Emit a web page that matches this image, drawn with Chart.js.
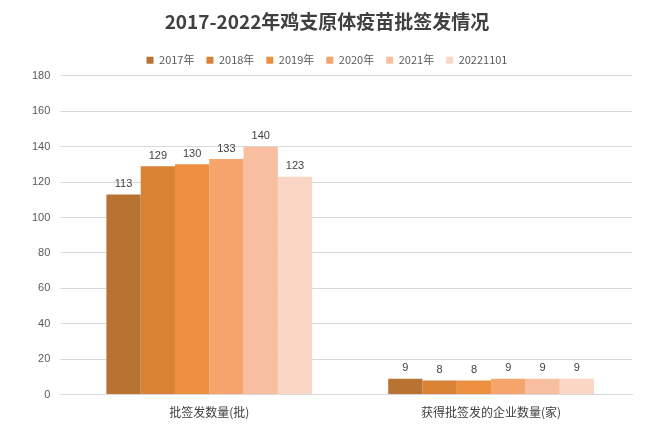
<!DOCTYPE html>
<html>
<head>
<meta charset="utf-8">
<script src="https://cdn.jsdelivr.net/npm/chart.js@4"></script>
<style>
  html, body { margin: 0; padding: 0; background: #fff; }
  #wrap { width: 672px; height: 436px; }
</style>
</head>
<body>
<div id="wrap"><canvas id="chart"></canvas></div>
<script>
// Données
const categories = ['批签发数量(批)', '获得批签发的企业数量(家)'];
const seriesNames = ['2017年', '2018年', '2019年', '2020年', '2021年', '20221101'];
const v2017 = [113, 9];
const v2018 = [129, 8];
const v2019 = [130, 8];
const v2020 = [133, 9];
const v2021 = [140, 9];
const v20221101 = [123, 9];
const colors = ['#B87333', '#D98236', '#EC8F3E', '#F5A46C', '#F8BEA0', '#FAD6C6'];

const allValues = [v2017, v2018, v2019, v2020, v2021, v20221101];

// Étiquettes au-dessus des barres
const labelPlugin = {
    id: 'barLabels',
    afterDatasetsDraw(chart) {
        const ctx = chart.ctx;
        ctx.save();
        ctx.font = '11px "Liberation Sans", Arial, sans-serif';
        ctx.fillStyle = '#404040';
        ctx.textAlign = 'center';
        ctx.textBaseline = 'bottom';
        chart.data.datasets.forEach((ds, i) => {
            chart.getDatasetMeta(i).data.forEach((bar, j) => {
                ctx.fillText(ds.data[j], bar.x, bar.y - 5);
            });
        });
        ctx.restore();
    }
};

new Chart(document.getElementById('chart'), {
    type: 'bar',
    data: {
        labels: categories,
        datasets: seriesNames.map((name, i) => ({
            label: name,
            data: allValues[i],
            backgroundColor: colors[i],
            categoryPercentage: 0.73,
            barPercentage: 1.0
        }))
    },
    options: {
        responsive: true,
        maintainAspectRatio: false,
        animation: false,
        layout: { padding: { left: 22, right: 40, bottom: 13 } },
        plugins: {
            title: {
                display: true,
                text: '2017-2022年鸡支原体疫苗批签发情况',
                color: '#404040',
                font: { size: 19, weight: 'bold', family: '"Noto Sans CJK SC", sans-serif' },
                padding: { top: 10, bottom: 10 }
            },
            legend: {
                position: 'top',
                labels: {
                    boxWidth: 7, boxHeight: 7,
                    color: '#595959',
                    font: { size: 11, family: '"Noto Sans CJK SC", sans-serif' },
                    padding: 12
                }
            },
            tooltip: { enabled: false }
        },
        scales: {
            x: {
                grid: { display: false },
                border: { color: '#d9d9d9' },
                ticks: { color: '#404040', font: { size: 12, family: '"Noto Sans CJK SC", sans-serif' } }
            },
            y: {
                min: 0, max: 180,
                ticks: { stepSize: 20, color: '#595959', font: { size: 11 }, padding: 10 },
                grid: { color: '#d9d9d9' },
                border: { display: false }
            }
        }
    },
    plugins: [labelPlugin]
});
</script>
</body>
</html>
